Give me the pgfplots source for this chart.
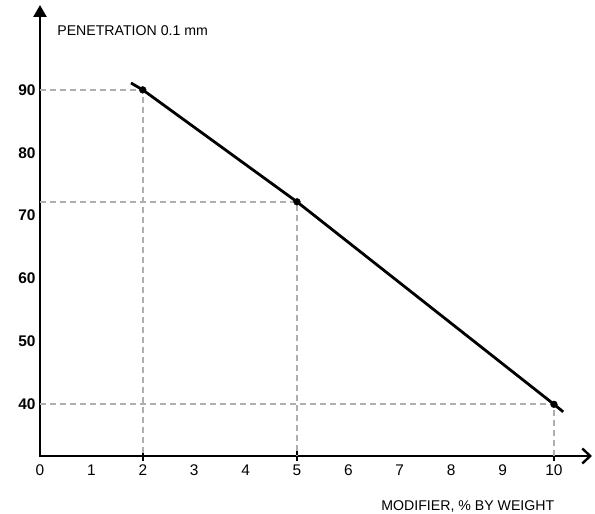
\documentclass[border=0pt]{standalone}
\usepackage{fontspec}
\setmainfont{Liberation Sans}
\usepackage{pgfplots}
\pgfplotsset{compat=1.18}
\usetikzlibrary{arrows.meta}
\definecolor{dashgray}{RGB}{175,175,175}

\begin{document}
\begin{tikzpicture}
\begin{axis}[
  scale only axis,
  width=552bp, height=451bp,
  xmin=0, xmax=10.74,
  ymin=31.78, ymax=103.5,
  clip=false,
  axis lines=left,
  x axis line style={line width=2.5bp, line cap=rect, -{Straight Barb[length=8bp,width=15bp,line width=2.4bp]}},
  y axis line style={line width=2.5bp, line cap=rect, -{Triangle[length=12bp,width=13bp]}},
  xtick={0,1,...,10},
  ytick={40,50,...,90},
  major tick length=0pt,
  extra x ticks={2,5,10},
  extra x tick labels={,,},
  extra x tick style={major tick length=9bp, tick align=center, tick style={line width=1.8bp, black}},
  /pgf/number format/assume math mode=true,
  xticklabel style={font=\fontsize{15.5}{15.5}\selectfont, yshift=-5bp},
  yticklabel style={font=\fontsize{15.5}{15.5}\selectfont\bfseries, xshift=-1bp},
  xlabel={MODIFIER, \% BY WEIGHT},
  ylabel={PENETRATION 0.1 mm},
  every axis x label/.style={at={(axis description cs:0.938,-0.121)}, anchor=base east, font=\fontsize{14.2}{14.2}\selectfont},
  every axis y label/.style={at={(axis description cs:0.025,0.933)}, anchor=base west, font=\fontsize{14.2}{14.2}\selectfont},
]
% guide lines
\addplot[dashgray, line width=2bp, dash pattern=on 6bp off 4bp] coordinates {(0,90) (2,90) (2,31.78)};
\addplot[dashgray, line width=2bp, dash pattern=on 6bp off 4bp] coordinates {(0,72.2) (5,72.2) (5,31.78)};
\addplot[dashgray, line width=2bp, dash pattern=on 6bp off 4bp] coordinates {(0,40) (10,40) (10,31.78)};
% penetration curve
\addplot[black, line width=2.8bp, line join=round] coordinates {(1.77,91.1) (2,90) (5,72.2) (10,40) (10.18,38.8)};
\addplot[black, only marks, mark=*, mark size=3.4bp] coordinates {(2,90) (5,72.2) (10,40)};
\end{axis}
\pgfresetboundingbox
\path[use as bounding box] (-40bp,-58bp) rectangle (555bp,456bp);
\end{tikzpicture}
\end{document}
